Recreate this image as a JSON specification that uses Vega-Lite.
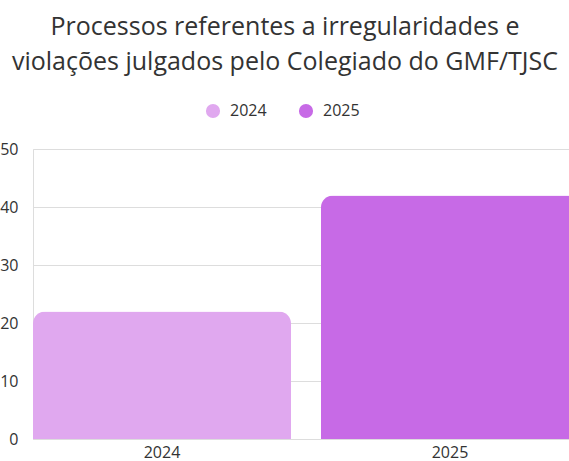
{
  "$schema": "https://vega.github.io/schema/vega-lite/v6.json",
  "autosize": "none",
  "width": 546,
  "height": 290,
  "padding": {"left": 33, "top": 149, "right": 0, "bottom": 22},
  "background": "white",
  "title": {
    "text": ["Processos referentes a irregularidades e", "violações julgados pelo Colegiado do GMF/TJSC"],
    "font": "Open Sans",
    "fontSize": 25,
    "fontWeight": "normal",
    "color": "#333333",
    "lineHeight": 35,
    "anchor": "middle",
    "dx": -21,
    "offset": 28
  },
  "data": {
    "values": [
      {"ano": "2024", "processos": 22},
      {"ano": "2025", "processos": 42}
    ]
  },
  "mark": {"type": "bar", "cornerRadiusTopLeft": 12, "cornerRadiusTopRight": 12},
  "encoding": {
    "x": {
      "field": "ano",
      "type": "nominal",
      "scale": {"paddingInner": 0.104, "paddingOuter": 0},
      "axis": {
        "title": null,
        "labelAngle": 0,
        "ticks": false,
        "domainColor": "#dddddd",
        "labelFont": "Open Sans",
        "labelFontSize": 16,
        "labelColor": "#333333",
        "labelPadding": 5
      }
    },
    "y": {
      "field": "processos",
      "type": "quantitative",
      "scale": {"domain": [0, 50]},
      "axis": {
        "title": null,
        "values": [0, 10, 20, 30, 40, 50],
        "ticks": false,
        "domain": false,
        "gridColor": "#dddddd",
        "labelFont": "Open Sans",
        "labelFontSize": 16,
        "labelColor": "#333333",
        "labelPadding": 15
      }
    },
    "color": {
      "field": "ano",
      "type": "nominal",
      "scale": {"domain": ["2024", "2025"], "range": ["#e0a8ef", "#c76ae6"]},
      "legend": {
        "title": null,
        "orient": "none",
        "direction": "horizontal",
        "legendX": 172,
        "legendY": -46,
        "symbolType": "circle",
        "symbolSize": 200,
        "symbolStrokeWidth": 0,
        "labelFont": "Open Sans",
        "labelFontSize": 16,
        "labelColor": "#333333",
        "columnPadding": 31,
        "labelOffset": 9
      }
    }
  }
}
